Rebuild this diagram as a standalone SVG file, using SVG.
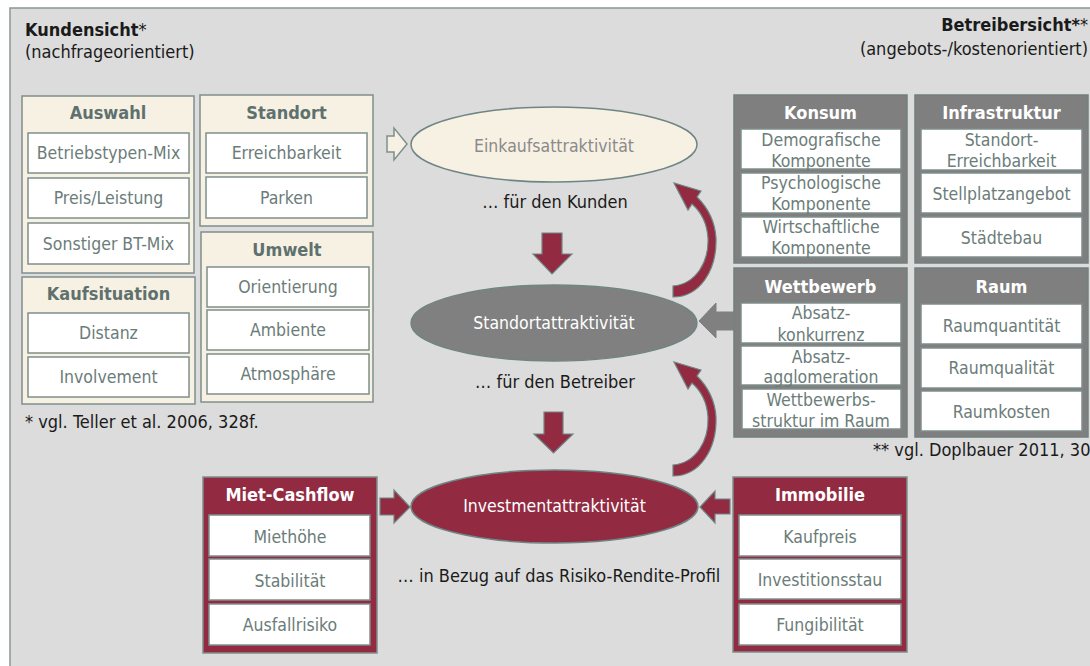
<svg xmlns="http://www.w3.org/2000/svg" xmlns:xlink="http://www.w3.org/1999/xlink" width="1090" height="666" viewBox="0 0 1090 666">
<style>
.bg{fill:#dcdcdc;stroke:#8a9794;stroke-width:1.5}
.cream{fill:#f7f1e4;stroke:#7f8f8c;stroke-width:1.5}
.gray{fill:#7f7f7f;stroke:#6f807d;stroke-width:1.5}
.maroon{fill:#922b42;stroke:#7f8f8c;stroke-width:1.5}
.inner{fill:#ffffff;stroke:#7f8f8c;stroke-width:1.5}
text{font-family:"DejaVu Sans Condensed","DejaVu Sans",sans-serif;font-size:17.5px}
.t{text-anchor:middle;fill:#6b7c79}
.ct{text-anchor:middle;font-weight:bold;fill:#5f716e;font-size:18px}
.wt{text-anchor:middle;font-weight:bold;fill:#ffffff;font-size:18px}
.blk{fill:#1a1a1a;font-size:18px}
.mid{text-anchor:middle}
.b{font-weight:bold}
.arrM{fill:#922b42;stroke:#6f8583;stroke-width:1.2}
.arrG{fill:#808080;stroke:#808080;stroke-width:1}
.arrC{fill:#f7f1e4;stroke:#7f8f8c;stroke-width:1.5}
</style>
<defs>
<path id="curved" d="M673 286 C696 284 709 262 708 238 C707 222 700 211 692 204 L688 210 L674 183 L701 191 L697 197 C708 208 715 222 716 238 C717 270 700 297 673 297 Z"/>
</defs>
<rect class="bg" x="10" y="8" width="1100" height="700"/>

<g id="headers">
<text x="25" y="36" class="blk"><tspan class="b">Kundensicht</tspan>*</text>
<text x="25" y="58" class="blk">(nachfrageorientiert)</text>
<text x="1088" y="31" class="blk" text-anchor="end"><tspan class="b">Betreibersicht*</tspan>*</text>
<text x="1088" y="55" class="blk" text-anchor="end">(angebots-/kostenorientiert)</text>
<text x="25" y="428" class="blk">* vgl. Teller et al. 2006, 328f.</text>
<text x="873" y="456" class="blk">** vgl. Doplbauer 2011, 30</text>
</g>

<g id="auswahl">
<rect class="cream" x="22" y="96" width="172" height="177"/>
<text class="ct" x="108" y="119">Auswahl</text>
<rect class="inner" x="28" y="133" width="161" height="40"/>
<text class="t" x="108.5" y="159">Betriebstypen-Mix</text>
<rect class="inner" x="28" y="178" width="161" height="40"/>
<text class="t" x="108.5" y="204">Preis/Leistung</text>
<rect class="inner" x="28" y="223" width="161" height="41"/>
<text class="t" x="108.5" y="249.5">Sonstiger BT-Mix</text>
</g>

<g id="standort">
<rect class="cream" x="200" y="95" width="173" height="131"/>
<text class="ct" x="286.5" y="119">Standort</text>
<rect class="inner" x="206" y="133" width="161" height="40"/>
<text class="t" x="286.5" y="159">Erreichbarkeit</text>
<rect class="inner" x="206" y="177" width="161" height="41"/>
<text class="t" x="286.5" y="203.5">Parken</text>
</g>

<g id="umwelt">
<rect class="cream" x="201" y="232" width="172" height="170"/>
<text class="ct" x="287" y="256">Umwelt</text>
<rect class="inner" x="207" y="267" width="162" height="40"/>
<text class="t" x="288" y="293">Orientierung</text>
<rect class="inner" x="207" y="310" width="162" height="40"/>
<text class="t" x="288" y="336">Ambiente</text>
<rect class="inner" x="207" y="354" width="162" height="40"/>
<text class="t" x="288" y="380">Atmosphäre</text>
</g>

<g id="kaufsituation">
<rect class="cream" x="22" y="277" width="173" height="127"/>
<text class="ct" x="108.5" y="300">Kaufsituation</text>
<rect class="inner" x="28" y="313" width="161" height="40"/>
<text class="t" x="108.5" y="339">Distanz</text>
<rect class="inner" x="28" y="357" width="161" height="40"/>
<text class="t" x="108.5" y="383">Involvement</text>
</g>

<g id="konsum">
<rect class="gray" x="734" y="95" width="173" height="168"/>
<text class="wt" x="820.5" y="119">Konsum</text>
<rect class="inner" x="741" y="129" width="160" height="40"/>
<text class="t" x="821" y="146">Demografische</text>
<text class="t" x="821" y="167">Komponente</text>
<rect class="inner" x="741" y="173" width="160" height="40"/>
<text class="t" x="821" y="189">Psychologische</text>
<text class="t" x="821" y="210">Komponente</text>
<rect class="inner" x="741" y="217" width="160" height="40"/>
<text class="t" x="821" y="233">Wirtschaftliche</text>
<text class="t" x="821" y="254">Komponente</text>
</g>

<g id="infrastruktur">
<rect class="gray" x="915" y="95" width="173" height="168"/>
<text class="wt" x="1001.5" y="119">Infrastruktur</text>
<rect class="inner" x="921" y="129" width="161" height="41"/>
<text class="t" x="1001.5" y="146">Standort-</text>
<text class="t" x="1001.5" y="167">Erreichbarkeit</text>
<rect class="inner" x="921" y="173" width="161" height="40"/>
<text class="t" x="1001.5" y="200">Stellplatzangebot</text>
<rect class="inner" x="921" y="217" width="161" height="40"/>
<text class="t" x="1001.5" y="243.5">Städtebau</text>
</g>

<g id="wettbewerb">
<rect class="gray" x="734" y="268" width="173" height="169"/>
<text class="wt" x="820.5" y="293">Wettbewerb</text>
<rect class="inner" x="741" y="303" width="160" height="40"/>
<text class="t" x="821" y="319">Absatz-</text>
<text class="t" x="821" y="341">konkurrenz</text>
<rect class="inner" x="741" y="346" width="160" height="39"/>
<text class="t" x="821" y="363">Absatz-</text>
<text class="t" x="821" y="383">agglomeration</text>
<rect class="inner" x="742" y="389" width="159" height="40"/>
<text class="t" x="821" y="406">Wettbewerbs-</text>
<text class="t" x="821" y="427">struktur im Raum</text>
</g>

<g id="raum">
<rect class="gray" x="915" y="268" width="173" height="169"/>
<text class="wt" x="1001.5" y="293">Raum</text>
<rect class="inner" x="921" y="304" width="161" height="40"/>
<text class="t" x="1001.5" y="332">Raumquantität</text>
<rect class="inner" x="921" y="348" width="161" height="40"/>
<text class="t" x="1001.5" y="374">Raumqualität</text>
<rect class="inner" x="921" y="391" width="161" height="40"/>
<text class="t" x="1001.5" y="417.5">Raumkosten</text>
</g>

<g id="miet-cashflow">
<rect class="maroon" x="203" y="477" width="174" height="176"/>
<text class="wt" x="290" y="501">Miet-Cashflow</text>
<rect class="inner" x="209" y="515" width="161" height="41"/>
<text class="t" x="290" y="542.5">Miethöhe</text>
<rect class="inner" x="209" y="559" width="161" height="41"/>
<text class="t" x="290" y="586.5">Stabilität</text>
<rect class="inner" x="209" y="604" width="161" height="41"/>
<text class="t" x="290" y="631">Ausfallrisiko</text>
</g>

<g id="immobilie">
<rect class="maroon" x="733" y="477" width="174" height="175"/>
<text class="wt" x="820" y="501">Immobilie</text>
<rect class="inner" x="739" y="515" width="162" height="41"/>
<text class="t" x="820" y="542.5">Kaufpreis</text>
<rect class="inner" x="739" y="559" width="162" height="40"/>
<text class="t" x="820" y="586">Investitionsstau</text>
<rect class="inner" x="739" y="604" width="162" height="41"/>
<text class="t" x="820" y="631">Fungibilität</text>
</g>

<g id="einkaufsattraktivitaet">
<ellipse cx="554" cy="144.5" rx="143" ry="37.5" fill="#f7f1e4" stroke="#6f8583" stroke-width="1.5"/>
<text class="mid" x="554" y="152" fill="#8a8a8a">Einkaufsattraktivität</text>
<text class="mid blk" x="555" y="208">… für den Kunden</text>
</g>

<g id="standortattraktivitaet">
<ellipse cx="554" cy="323" rx="143" ry="38" fill="#808080" stroke="#6f8583" stroke-width="1.5"/>
<text class="mid" x="554" y="329" fill="#ffffff">Standortattraktivität</text>
<text class="mid blk" x="555" y="388">… für den Betreiber</text>
</g>

<g id="investmentattraktivitaet">
<ellipse cx="554.5" cy="506.5" rx="143.5" ry="36.5" fill="#922b42" stroke="#6f8583" stroke-width="1.5"/>
<text class="mid" x="554.5" y="512" fill="#ffffff">Investmentattraktivität</text>
<text class="mid blk" x="559" y="582">… in Bezug auf das Risiko-Rendite-Profil</text>
</g>

<g id="connectors">
<path class="arrC" d="M387 136 H394 V128 L407 144 L394 160 V152 H387 Z"/>
<path class="arrG" d="M734 312 H716 V303 L699 321 L716 338 V330 H734 Z"/>
<path class="arrM" d="M542 233 H562 V254 H572 L552 274 L533 254 H542 Z"/>
<path class="arrM" d="M544 412 H563 V434 H573 L553.5 453 L534 434 H544 Z"/>
<path class="arrM" d="M380 498 H394 V490 L410 507 L394 523 V515 H380 Z"/>
<path class="arrM" d="M730 499 H715 V491 L700 507 L715 523 V514 H730 Z"/>
<use xlink:href="#curved" class="arrM"/>
<use xlink:href="#curved" class="arrM" transform="translate(0,179)"/>
</g>
</svg>
